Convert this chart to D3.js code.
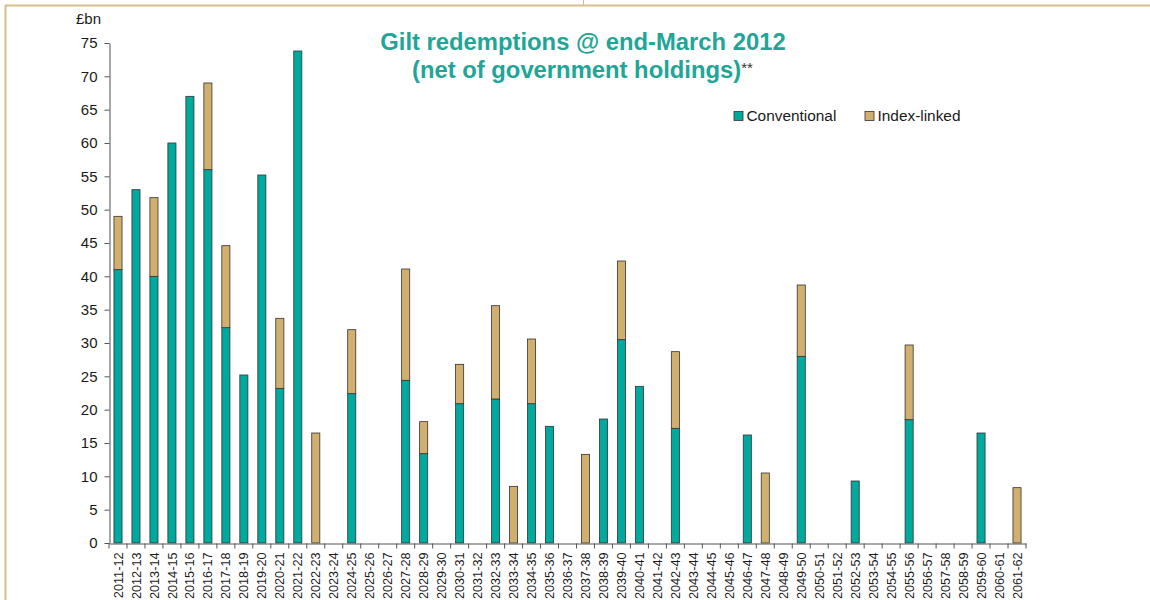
<!DOCTYPE html>
<html>
<head>
<meta charset="utf-8">
<script src="https://cdn.jsdelivr.net/npm/d3@7"></script>
<style>
  body { margin: 0; background: #fff; }
  svg { display: block; font-family: "Liberation Sans", Arial, sans-serif; }
</style>
</head>
<body>
<div id="grafiek"></div>
<script>
// jaren van aflossing
var jaren = ["2011-12","2012-13","2013-14","2014-15","2015-16","2016-17","2017-18","2018-19","2019-20","2020-21",
             "2021-22","2022-23","2023-24","2024-25","2025-26","2026-27","2027-28","2028-29","2029-30","2030-31",
             "2031-32","2032-33","2033-34","2034-35","2035-36","2036-37","2037-38","2038-39","2039-40","2040-41",
             "2041-42","2042-43","2043-44","2044-45","2045-46","2046-47","2047-48","2048-49","2049-50","2050-51",
             "2051-52","2052-53","2053-54","2054-55","2055-56","2056-57","2057-58","2058-59","2059-60","2060-61",
             "2061-62"];

// conventionele gilts (£bn)
var conventional = [41, 53, 40, 60, 67, 56, 32.3, 25.2, 55.2, 23.2,
                    73.8, 0, 0, 22.4, 0, 0, 24.4, 13.4, 0, 20.9,
                    0, 21.6, 0, 20.9, 17.5, 0, 0, 18.6, 30.5, 23.5,
                    0, 17.2, 0, 0, 0, 16.2, 0, 0, 28, 0,
                    0, 9.3, 0, 0, 18.5, 0, 0, 0, 16.5, 0,
                    0];

// index-linked gilts (£bn)
var indexLinked = [8, 0, 11.8, 0, 0, 13, 12.3, 0, 0, 10.5,
                   0, 16.5, 0, 9.6, 0, 0, 16.7, 4.8, 0, 5.9,
                   0, 14, 8.5, 9.7, 0, 0, 13.3, 0, 11.8, 0,
                   0, 11.5, 0, 0, 0, 0, 10.5, 0, 10.7, 0,
                   0, 0, 0, 0, 11.2, 0, 0, 0, 0, 0,
                   8.3];

var yTicks = [0, 5, 10, 15, 20, 25, 30, 35, 40, 45, 50, 55, 60, 65, 70, 75];

var breedte = 1150, hoogte = 600;
var marge = {boven: 43, beneden: 57, links: 109, rechts: 124};

var kleurConv = "#00A99D";
var kleurIndex = "#D1B06F";
var kader = "#D6BE8E";

var svg = d3.select("#grafiek").append("svg")
            .attr("width", breedte)
            .attr("height", hoogte);

// kader rond de pagina
svg.append("line").attr("x1", 5).attr("x2", breedte).attr("y1", 5.5).attr("y2", 5.5)
   .attr("stroke", kader).attr("stroke-width", 2);
svg.append("line").attr("x1", 5.5).attr("x2", 5.5).attr("y1", 5).attr("y2", hoogte)
   .attr("stroke", kader).attr("stroke-width", 2);
svg.append("line").attr("x1", 583.5).attr("x2", 583.5).attr("y1", 0).attr("y2", 5)
   .attr("stroke", kader).attr("stroke-width", 1);

// data opbouwen
var data = jaren.map(function(j, i) {
  return {jaar: j, conv: conventional[i], index: indexLinked[i]};
});

// schaalfuncties
var x = d3.scaleBand()
          .domain(jaren)
          .range([marge.links, breedte - marge.rechts])
          .paddingInner(0.55)
          .paddingOuter(0.275);

var y = d3.scaleLinear()
          .domain([0, 75])
          .range([hoogte - marge.beneden, marge.boven]);

var stap = x.step();
var x0 = x.range()[0];

// y-as
var asY = d3.axisLeft(y).tickValues(yTicks).tickSize(5).tickSizeOuter(0);
var gY = svg.append("g")
            .attr("transform", "translate(" + (marge.links + 0.5) + ",0)")
            .call(asY);
gY.select(".domain").attr("stroke", "#8a8a8a").attr("stroke-width", 1.5);
gY.selectAll(".tick line").attr("stroke", "#555");
gY.selectAll(".tick text").attr("font-size", "15px").attr("fill", "#1a1a1a").attr("x", -12);

svg.append("text")
   .attr("x", 101).attr("y", 24)
   .attr("text-anchor", "end")
   .attr("font-size", "15px").attr("fill", "#1a1a1a")
   .text("£bn");

// balken conventioneel
svg.selectAll(".conv")
   .data(data.filter(function(d) { return d.conv > 0; }))
   .enter()
   .append("rect")
   .attr("class", "conv")
   .attr("x", function(d) { return x(d.jaar); })
   .attr("width", x.bandwidth())
   .attr("y", function(d) { return y(d.conv); })
   .attr("height", function(d) { return y(0) - y(d.conv); })
   .attr("fill", kleurConv)
   .attr("stroke", "#333")
   .attr("stroke-width", 0.8);

// balken index-linked
svg.selectAll(".index")
   .data(data.filter(function(d) { return d.index > 0; }))
   .enter()
   .append("rect")
   .attr("class", "index")
   .attr("x", function(d) { return x(d.jaar); })
   .attr("width", x.bandwidth())
   .attr("y", function(d) { return y(d.conv + d.index); })
   .attr("height", function(d) { return y(d.conv) - y(d.conv + d.index); })
   .attr("fill", kleurIndex)
   .attr("stroke", "#333")
   .attr("stroke-width", 0.8);

// x-as
var asX = d3.axisBottom(x).tickSize(0).tickSizeOuter(0);
var gX = svg.append("g")
            .attr("transform", "translate(0," + (y(0) + 0.5) + ")")
            .call(asX);
gX.select(".domain").attr("stroke", "#555").attr("stroke-width", 1.2);
gX.selectAll(".tick text")
  .attr("transform", "rotate(-90)")
  .attr("text-anchor", "end")
  .attr("x", -9)
  .attr("y", 0)
  .attr("dy", "0.36em")
  .attr("font-size", "12.7px")
  .attr("fill", "#1a1a1a");

// streepjes tussen de categorieën
var grenzen = d3.range(jaren.length + 1);
gX.selectAll(".grens")
  .data(grenzen)
  .enter()
  .append("line")
  .attr("class", "grens")
  .attr("x1", function(i) { return x0 + i * stap; })
  .attr("x2", function(i) { return x0 + i * stap; })
  .attr("y1", 0)
  .attr("y2", 5)
  .attr("stroke", "#555");

// titel
svg.append("text")
   .attr("x", 583)
   .attr("y", 50)
   .attr("text-anchor", "middle")
   .attr("font-size", "23.8px")
   .attr("font-weight", "bold")
   .attr("fill", "#21A597")
   .text("Gilt redemptions @ end-March 2012");

var titel2 = svg.append("text")
                .attr("x", 412)
                .attr("y", 78)
                .attr("font-size", "23.8px")
                .attr("font-weight", "bold")
                .attr("fill", "#21A597")
                .text("(net of government holdings)");
titel2.append("tspan")
      .attr("font-size", "15px")
      .attr("font-weight", "normal")
      .attr("fill", "#333")
      .attr("dy", "-5")
      .text("**");

// legenda
var legenda = [{naam: "Conventional", kleur: kleurConv, x: 734},
               {naam: "Index-linked", kleur: kleurIndex, x: 865}];
var leg = svg.selectAll(".legenda")
             .data(legenda)
             .enter()
             .append("g")
             .attr("class", "legenda")
             .attr("transform", function(d) { return "translate(" + d.x + ",111.5)"; });
leg.append("rect")
   .attr("width", 9).attr("height", 9)
   .attr("fill", function(d) { return d.kleur; })
   .attr("stroke", "#333").attr("stroke-width", 0.8);
leg.append("text")
   .attr("x", 12.5).attr("y", 9.5)
   .attr("font-size", "15.4px").attr("fill", "#1a1a1a")
   .text(function(d) { return d.naam; });
</script>
</body>
</html>
